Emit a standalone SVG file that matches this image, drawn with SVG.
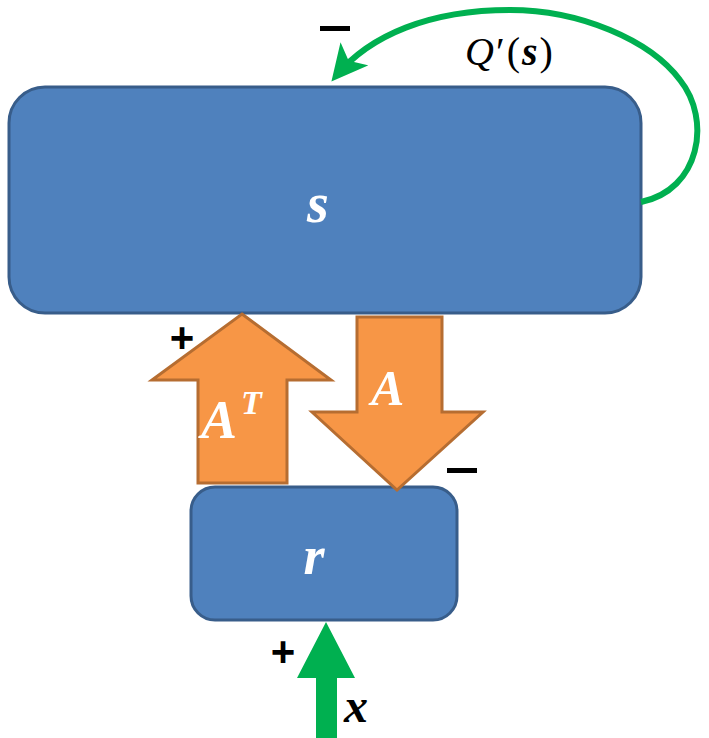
<svg xmlns="http://www.w3.org/2000/svg" width="709" height="738" viewBox="0 0 709 738">
<style>
.box{fill:#4F81BD;stroke:#385D8A;stroke-width:3}
.orange{fill:#F79646;stroke:#B66D31;stroke-width:3;stroke-linejoin:miter}
.math{font-family:"Liberation Serif","DejaVu Serif",serif;font-style:italic;font-weight:bold;fill:#FFFFFF}
.sign{font-family:"Liberation Sans","DejaVu Sans",sans-serif;font-weight:bold;fill:#000000}
</style>
<defs>
<marker id="gh" markerWidth="6" markerHeight="6" refX="4.8" refY="3" orient="auto" markerUnits="strokeWidth">
<path d="M0,0 L6,3 L0,6 L1.5,3 z" fill="#00B050"/>
</marker>
</defs>
<rect width="709" height="738" fill="#FFFFFF"/>
<g id="node-s">
<rect class="box" x="9" y="87" width="632" height="226" rx="36"/>
<text class="math" x="318" y="222" font-size="56" text-anchor="middle">s</text>
</g>
<g id="node-r">
<rect class="box" x="191" y="487" width="266" height="133" rx="24"/>
<text class="math" x="314" y="574" font-size="54" text-anchor="middle">r</text>
</g>
<g id="arrow-AT">
<polygon class="orange" points="242,314 331,380 287,380 287,483 198,483 198,380 152,380"/>
<text class="math" x="201" y="438" font-size="54">A<tspan font-size="34" dx="4" dy="-24">T</tspan></text>
</g>
<g id="arrow-A">
<polygon class="orange" points="357,317 442,317 442,412 483,412 397,490 312,412 357,412"/>
<text class="math" x="371" y="405" font-size="50">A</text>
</g>
<g id="connectors">
<path d="M641,202 C700,190 712,120 680,80 C650,40 580,10 510,10 C430,10 370,35 336,76" fill="none" stroke="#00B050" stroke-width="6" marker-end="url(#gh)"/>
<polygon points="316,738 337,738 337,678 355,678 326,622 297,678 316,678" fill="#00B050"/>
</g>
<g id="labels">
<rect x="320" y="26" width="30" height="5" fill="#000000"/>
<text x="465" y="65" font-family="Liberation Serif, DejaVu Serif, serif" font-size="40" fill="#000000" letter-spacing="2"><tspan font-style="italic">Q</tspan>′(<tspan font-style="italic" font-weight="bold">s</tspan>)</text>
<text class="sign" x="182" y="352" font-size="42" text-anchor="middle">+</text>
<rect x="447" y="468" width="30" height="5" fill="#000000"/>
<text class="sign" x="283" y="666" font-size="42" text-anchor="middle">+</text>
<text x="344" y="722" font-family="Liberation Serif, DejaVu Serif, serif" font-size="48" font-style="italic" font-weight="bold" fill="#000000">x</text>
</g>
</svg>
